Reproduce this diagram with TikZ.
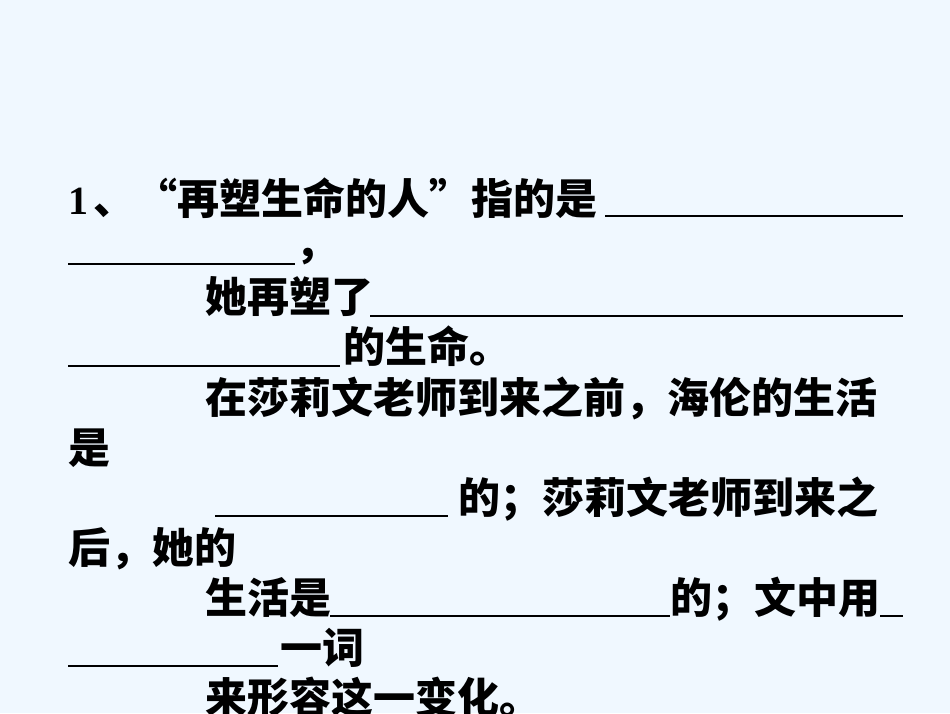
\documentclass[tikz,border=0pt]{standalone}
\usepackage{fontspec}
\newfontfamily\cjk{Noto Sans CJK SC}
\setmainfont{Liberation Serif}
\begin{document}
\begin{tikzpicture}[x=1pt,y=-1pt,
  t/.style={anchor=base west,inner sep=0pt,font=\cjk\bfseries\fontsize{42}{44}\selectfont},
  ul/.style={line width=1.6pt}]
\useasboundingbox[fill={rgb,255:red,240;green,248;blue,255}] (0,0) rectangle (950,713);
\node[t,font=\bfseries\fontsize{40}{44}\selectfont] (n1) at (68,214) {1};
\node[t] (a1) at (93,214) {、“再塑生命的人”指的是};
\coordinate (u1a) at (605,216); \coordinate (u1b) at (903,216);
\draw[ul] (u1a) -- (u1b);
\coordinate (u2a) at (68,264); \coordinate (u2b) at (295,264);
\draw[ul] (u2a) -- (u2b);
\node[t] (a2) at (295,258) {，};
\node[t] (a3) at (205,312) {她再塑了};
\coordinate (u3a) at (370,316); \coordinate (u3b) at (903,316);
\draw[ul] (u3a) -- (u3b);
\coordinate (u4a) at (68,366); \coordinate (u4b) at (340,366);
\draw[ul] (u4a) -- (u4b);
\node[t] (a4) at (343,362) {的生命。};
\node[t] (a5) at (205,413) {在莎莉文老师到来之前，海伦的生活};
\node[t] (a6) at (68,463) {是};
\coordinate (u7a) at (215,516); \coordinate (u7b) at (448,516);
\draw[ul] (u7a) -- (u7b);
\node[t] (a7) at (458,513) {的；莎莉文老师到来之};
\node[t] (a8) at (68,563) {后，她的};
\node[t] (a9) at (205,613) {生活是};
\coordinate (u9a) at (330,616); \coordinate (u9b) at (670,616);
\draw[ul] (u9a) -- (u9b);
\node[t] (a9b) at (670,613) {的；文中用};
\coordinate (u9c) at (880,616); \coordinate (u9d) at (903,616);
\draw[ul] (u9c) -- (u9d);
\coordinate (u10a) at (68,666); \coordinate (u10b) at (278,666);
\draw[ul] (u10a) -- (u10b);
\node[t] (a10) at (280,663) {一词};
\node[t] (a11) at (205,713) {来形容这一变化。};
\end{tikzpicture}
\end{document}
